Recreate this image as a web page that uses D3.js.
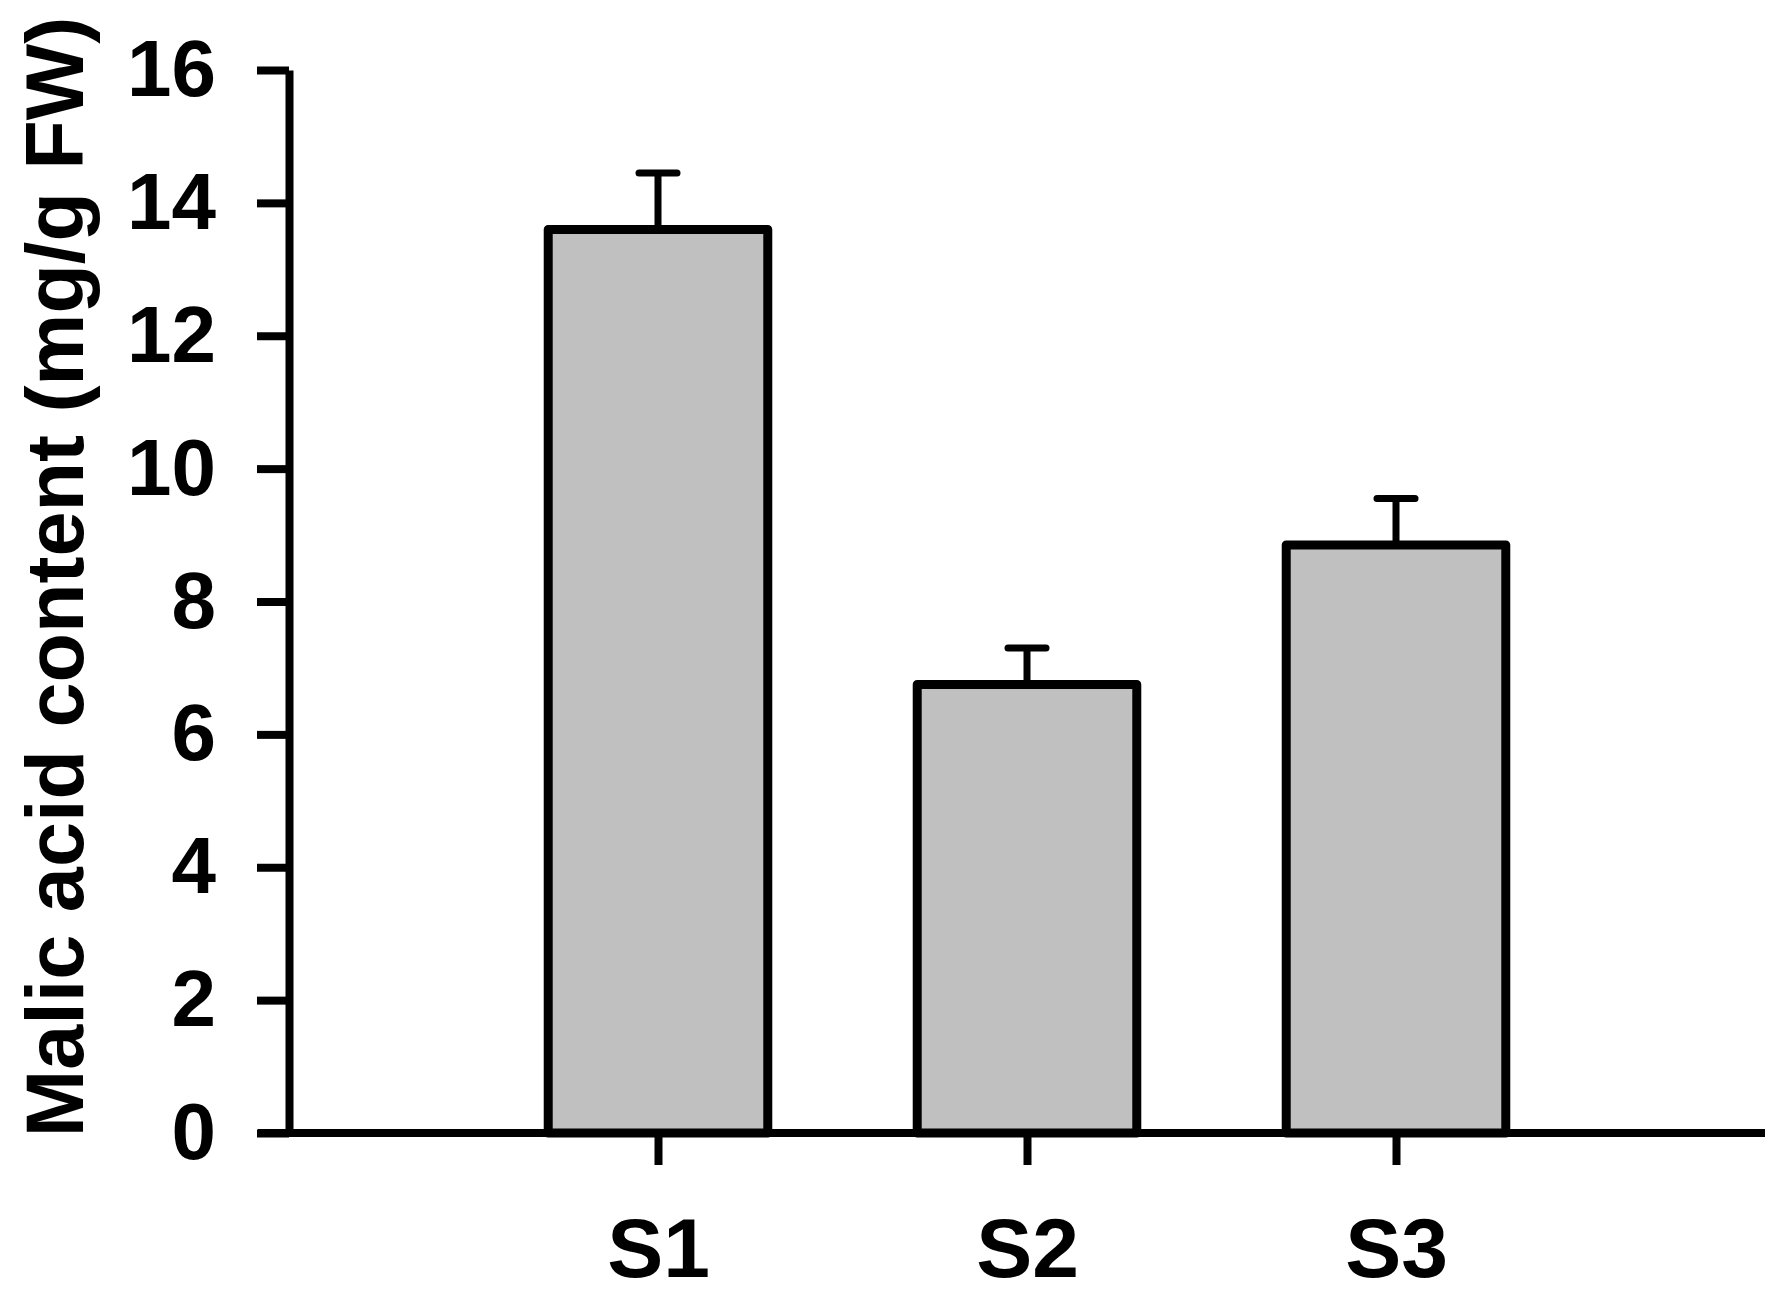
<!DOCTYPE html>
<html>
<head>
<meta charset="utf-8">
<script src="https://cdn.jsdelivr.net/npm/d3@7"></script>
<style>
  body { margin: 0; background: #fff; }
  text { font-family: "Liberation Sans", Arial, sans-serif; font-weight: bold; fill: #000; }
</style>
</head>
<body>
<div class="chart"></div>
<script>
// data
const categories = ['S1', 'S2', 'S3'];
const values = [13.6, 6.75, 8.85];
const errors = [0.85, 0.55, 0.7];
const yTicks = [0, 2, 4, 6, 8, 10, 12, 14, 16];

const W = 1788, H = 1299;
const x0 = 289, x1 = 1765;
const yTop = 70, yBottom = 1133;

const svg = d3.select('.chart').append('svg')
    .attr('width', W)
    .attr('height', H)

const x = d3.scalePoint()
    .domain(categories)
    .range([x0, x1])
    .padding(1)

const y = d3.scaleLinear()
    .domain([0, 16])
    .range([yBottom, yTop])

const lw = 8;
const barW = x.step() * 0.595;

// bars
svg.selectAll('.bar')
    .data(categories)
    .enter().append('rect')
    .attr('class', 'bar')
    .attr('x', d => x(d) - barW / 2)
    .attr('y', (d, i) => y(values[i]))
    .attr('width', barW)
    .attr('height', (d, i) => y(0) - y(values[i]))
    .attr('fill', '#c0c0c0')
    .attr('stroke', '#000')
    .attr('stroke-width', 9)
    .attr('stroke-linejoin', 'round')

// error bars (upper only)
const capW = 38;
svg.selectAll('.err')
    .data(categories)
    .enter().append('line')
    .attr('x1', d => x(d)).attr('x2', d => x(d))
    .attr('y1', (d, i) => y(values[i]))
    .attr('y2', (d, i) => y(values[i] + errors[i]))
    .attr('stroke', '#000')
    .attr('stroke-width', 7)
svg.selectAll('.cap')
    .data(categories)
    .enter().append('line')
    .attr('x1', d => x(d) - capW / 2).attr('x2', d => x(d) + capW / 2)
    .attr('y1', (d, i) => y(values[i] + errors[i]))
    .attr('y2', (d, i) => y(values[i] + errors[i]))
    .attr('stroke', '#000')
    .attr('stroke-width', 7)
    .attr('stroke-linecap', 'round')

// y axis
const yAxis = d3.axisLeft(y)
    .tickValues(yTicks)
    .tickSize(32)
    .tickSizeOuter(0)
    .tickPadding(41)
    .tickFormat(d3.format('d'))

const gy = svg.append('g')
    .attr('transform', 'translate(' + x0 + ',0)')
    .call(yAxis)
gy.select('.domain').attr('stroke-width', lw)
gy.selectAll('.tick line').attr('stroke-width', lw)
gy.selectAll('.tick text')
    .style('font-size', '80px')
    .attr('fill', '#000')

// x axis baseline across the whole plot
svg.append('line')
    .attr('x1', x0 - 31).attr('x2', x1)
    .attr('y1', y(0)).attr('y2', y(0))
    .attr('stroke', '#000')
    .attr('stroke-width', lw)

const xAxis = d3.axisBottom(x)
    .tickSize(32)
    .tickPadding(52)

const gx = svg.append('g')
    .attr('transform', 'translate(0,' + y(0) + ')')
    .call(xAxis)
gx.select('.domain').remove()
gx.selectAll('.tick line').attr('stroke-width', lw)
gx.selectAll('.tick text')
    .style('font-size', '84px')
    .attr('fill', '#000')

// y title
svg.append('text')
    .attr('transform', 'translate(83,577) rotate(-90)')
    .attr('text-anchor', 'middle')
    .style('font-size', '81px')
    .text('Malic acid content (mg/g FW)')
</script>
</body>
</html>
